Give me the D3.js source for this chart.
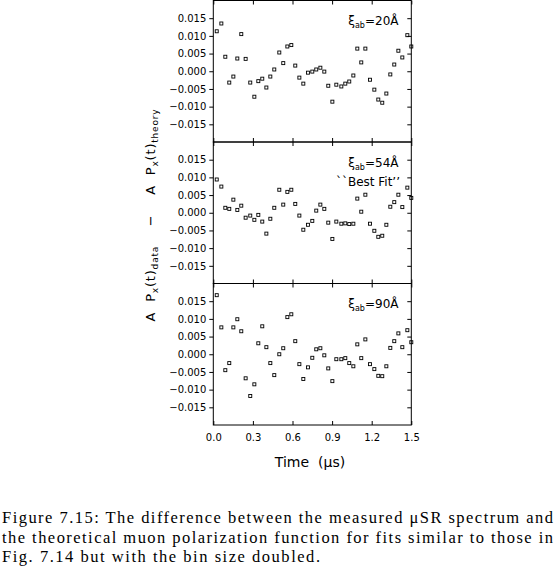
<!DOCTYPE html>
<html>
<head>
<meta charset="utf-8">
<script src="https://cdn.jsdelivr.net/npm/d3@7"></script>
<style>
  body { margin: 0; background: #fff; }
  svg { display: block; }
  .caption { font-family: "Liberation Serif", "Times New Roman", Times, serif; }
</style>
</head>
<body>
<svg id="chart"></svg>
<script>
// Время (мкс) для каждого бина
const time = [0.026, 0.061, 0.091, 0.121, 0.152, 0.182, 0.212, 0.245, 0.280, 0.311,
              0.341, 0.371, 0.402, 0.432, 0.462, 0.500, 0.530, 0.561, 0.591, 0.621,
              0.652, 0.682, 0.717, 0.750, 0.780, 0.811, 0.841, 0.871, 0.902, 0.932,
              0.970, 1.000, 1.030, 1.061, 1.091, 1.121, 1.152, 1.187, 1.220, 1.250,
              1.280, 1.311, 1.341, 1.371, 1.402, 1.432, 1.470, 1.500];

// Разность данные - теория, xi_ab = 20 A
const diff_20 = [0.0113, 0.0135, 0.0041, -0.0032, -0.0015, 0.0036, 0.0105, 0.0035, -0.0032, -0.0072,
                 -0.0028, -0.0021, -0.0046, -0.0015, 0.0005, 0.0053, 0.0023, 0.0070, 0.0074, 0.0016,
                 -0.0018, -0.0035, -0.0004, -0.0001, 0.0005, 0.0010, -0.0001, -0.0041, -0.0086, -0.0038,
                 -0.0043, -0.0035, -0.0029, -0.0012, 0.0064, 0.0025, 0.0064, -0.0024, -0.0052, -0.0080,
                 -0.0089, -0.0063, -0.0009, 0.0019, 0.0058, 0.0039, 0.0102, 0.0070];

// xi_ab = 54 A ("Best Fit")
const diff_54 = [0.0094, 0.0074, 0.0014, 0.0011, 0.0037, 0.0008, 0.0020, -0.0014, -0.0008, -0.0020,
                 -0.0006, -0.0025, -0.0059, -0.0017, 0.0014, 0.0065, 0.0023, 0.0059, 0.0065, 0.0025,
                 -0.0008, -0.0048, -0.0034, -0.0023, 0.0006, 0.0023, 0.0011, -0.0028, -0.0074, -0.0025,
                 -0.0031, -0.0030, -0.0032, -0.0031, 0.0040, 0.0003, 0.0051, -0.0031, -0.0051, -0.0068,
                 -0.0065, -0.0034, 0.0017, 0.0030, 0.0051, 0.0016, 0.0071, 0.0042];

// xi_ab = 90 A
const diff_90 = [0.0167, 0.0076, -0.0045, -0.0025, 0.0076, 0.0099, 0.0065, -0.0068, -0.0118, -0.0085,
                 0.0031, 0.0079, 0.0020, -0.0025, -0.0059, 0.0000, 0.0017, 0.0105, 0.0113, 0.0037,
                 -0.0028, -0.0070, -0.0037, -0.0010, 0.0014, 0.0017, -0.0003, -0.0040, -0.0076, -0.0014,
                 -0.0014, -0.0011, -0.0025, -0.0034, 0.0028, -0.0011, 0.0042, -0.0028, -0.0042, -0.0061,
                 -0.0062, -0.0034, 0.0018, 0.0037, 0.0059, 0.0020, 0.0068, 0.0034];

const panel_xi = ["20", "54", "90"];
const y_ticks = [-0.015, -0.010, -0.005, 0.000, 0.005, 0.010, 0.015];
const x_ticks = [0.0, 0.3, 0.6, 0.9, 1.2, 1.5];
const caption_lines = [
    "Figure 7.15: The difference between the measured \u03bcSR spectrum and",
    "the theoretical muon polarization function for fits similar to those in",
    "Fig. 7.14 but with the bin size doubled."
];

const svg_width = 555, svg_height = 570;
const plot_left = 213.3, plot_width = 198;
const plot_top = 0.5, panel_height = 141.5;
const font = "DejaVu Sans";

const svg = d3.select("#chart")
    .attr("width", svg_width)
    .attr("height", svg_height);

const x = d3.scaleLinear().domain([0, 1.5]).range([plot_left, plot_left + plot_width]);
const y = d3.scaleLinear().domain([-0.02, 0.02]).range([panel_height, 0]);

//Убираем линию оси и ставим шрифт
function styleAxis(g) {
    g.select(".domain").remove();
    g.attr("font-family", font).attr("font-size", 10);
    g.selectAll("line").attr("stroke", "black");
}

//Рисуем одну панель
function drawPanel(values, xi, index, show_x_labels) {
    const top = plot_top + index * panel_height;
    const g = svg.append("g").attr("transform", `translate(0, ${top})`);

    // Левая ось с подписями, штрихи наружу
    g.append("g")
        .attr("transform", `translate(${plot_left}, 0)`)
        .call(d3.axisLeft(y).tickValues(y_ticks).tickSize(4).tickPadding(3).tickFormat(d3.format(".3f")))
        .call(styleAxis);

    // Правая ось, штрихи внутрь
    g.append("g")
        .attr("transform", `translate(${plot_left + plot_width}, 0)`)
        .call(d3.axisLeft(y).tickValues(y_ticks).tickSize(4).tickFormat(""))
        .call(styleAxis);

    // Верх и низ, штрихи внутрь
    g.append("g")
        .call(d3.axisBottom(x).tickValues(x_ticks).tickSize(4).tickFormat(""))
        .call(styleAxis);
    g.append("g")
        .attr("transform", `translate(0, ${panel_height})`)
        .call(d3.axisTop(x).tickValues(x_ticks).tickSize(4).tickFormat(""))
        .call(styleAxis);

    if (show_x_labels) {
        g.append("g")
            .attr("transform", `translate(0, ${panel_height})`)
            .call(d3.axisBottom(x).tickValues(x_ticks).tickSize(0).tickPadding(9).tickFormat(d3.format(".1f")))
            .call(styleAxis);
    }

    // Рамка
    g.append("rect")
        .attr("x", plot_left)
        .attr("y", 0)
        .attr("width", plot_width)
        .attr("height", panel_height)
        .attr("fill", "none")
        .attr("stroke", "black")
        .attr("stroke-width", 1);

    // Точки - пустые квадратики
    g.selectAll("rect.pt")
        .data(values)
        .join("rect")
        .attr("class", "pt")
        .attr("x", (d, i) => x(time[i]) - 1.5)
        .attr("y", d => y(d) - 1.5)
        .attr("width", 3)
        .attr("height", 3)
        .attr("fill", "none")
        .attr("stroke", "black")
        .attr("stroke-width", 0.9);

    // Подпись xi_ab
    const label = g.append("text")
        .attr("x", 398.5)
        .attr("y", 24.5)
        .attr("text-anchor", "end")
        .attr("font-family", font)
        .attr("font-size", 12);
    label.append("tspan").text("\u03be");
    label.append("tspan").attr("dy", 3).attr("font-size", 8).text("ab");
    label.append("tspan").attr("dy", -3).text(`=${xi}\u00c5`);

    return g;
}

const panels = [diff_20, diff_54, diff_90];
panels.forEach((values, i) => {
    const g = drawPanel(values, panel_xi[i], i, i === panels.length - 1);
    if (i === 1) {
        g.append("text")
            .attr("x", 400)
            .attr("y", 44)
            .attr("text-anchor", "end")
            .attr("font-family", font)
            .attr("font-size", 12)
            .text("``Best Fit\u2019\u2019");
    }
});

// Подпись оси X
svg.append("text")
    .attr("x", 310)
    .attr("y", 467)
    .attr("text-anchor", "middle")
    .attr("font-family", font)
    .attr("font-size", 14)
    .style("white-space", "pre")
    .text("Time  (\u03bcs)");

// Подпись оси Y (повернута)
const ylab = svg.append("text")
    .attr("transform", "translate(155, 215) rotate(-90)")
    .attr("text-anchor", "middle")
    .attr("font-family", font)
    .attr("font-size", 13)
    .attr("letter-spacing", 0.8)
    .style("white-space", "pre");
ylab.append("tspan").text("A  P");
ylab.append("tspan").attr("dy", 3).attr("font-size", 9).text("x");
ylab.append("tspan").attr("dy", -3).text("(t)");
ylab.append("tspan").attr("dy", 3).attr("font-size", 9).text("data");
ylab.append("tspan").attr("dy", -3).text("    \u2212    A  P");
ylab.append("tspan").attr("dy", 3).attr("font-size", 9).text("x");
ylab.append("tspan").attr("dy", -3).text("(t)");
ylab.append("tspan").attr("dy", 3).attr("font-size", 9).text("theory");

// Подпись рисунка
const caption_len = [551, 551, 318];
caption_lines.forEach((line, i) => {
    svg.append("text")
        .attr("class", "caption")
        .attr("x", 2)
        .attr("y", 523 + i * 19.5)
        .attr("font-size", 16.5)
        .attr("textLength", caption_len[i])
        .attr("lengthAdjust", "spacing")
        .text(line);
});
</script>
</body>
</html>
